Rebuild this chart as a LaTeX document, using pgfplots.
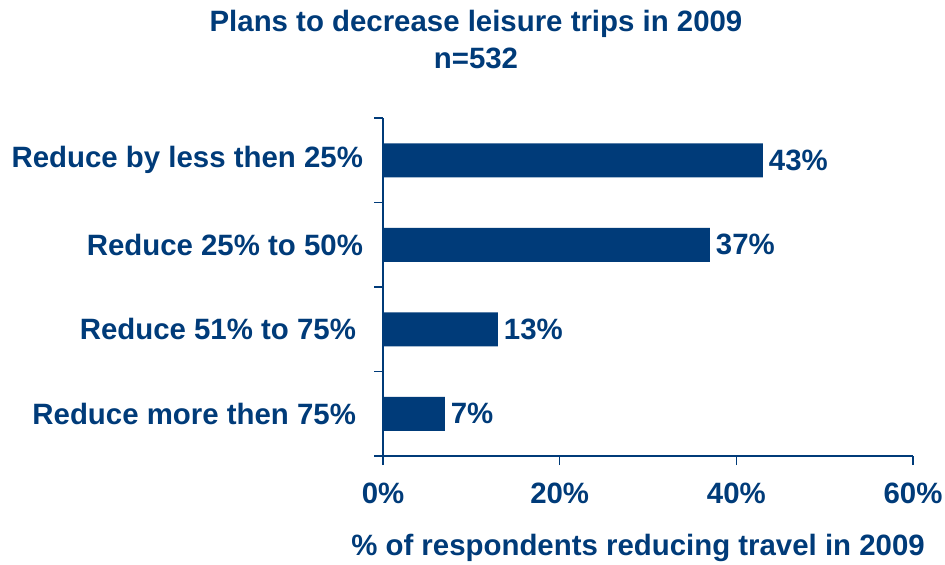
\documentclass[border=0pt]{standalone}
\usepackage{fontspec}
\setmainfont{Liberation Sans}
\usepackage{pgfplots}
\pgfplotsset{compat=1.18}
\definecolor{navy}{HTML}{003B79}
\newcommand{\lbl}{\fontsize{14.7}{17}\selectfont\bfseries}

\begin{document}
\begin{tikzpicture}
\useasboundingbox (0pt,0pt) rectangle (472.5pt,282pt);
\begin{axis}[
  at={(191.5pt,54pt)}, anchor=south west,
  width=265pt, height=169pt, scale only axis,
  xbar, bar width=17pt,
  xmin=0, xmax=60, ymin=-0.5, ymax=3.5,
  axis lines*=left,
  axis line style={navy, line width=0.8pt},
  /pgf/number format/assume math mode=true,
  xtick={0,20,40,60},
  xticklabel={\pgfmathprintnumber{\tick}\%},
  minor xtick={0,20,40,60},
  ytick={0,1,2,3},
  yticklabels={Reduce more then 75\%\rule{3.5pt}{0pt}, Reduce 51\% to 75\%\rule{3.5pt}{0pt}, Reduce 25\% to 50\%, Reduce by less then 25\%},
  minor ytick={-0.5,0.5,1.5,2.5,3.5},
  major tick length=0pt, minor tick length=4.5pt,
  tick align=outside,
  tick style={navy, line width=0.8pt},
  tick label style={font=\lbl, text=navy},
  xticklabel style={yshift=-10pt},
  yticklabel style={xshift=-6.5pt},
  point meta=x,
  nodes near coords={\pgfmathprintnumber{\pgfplotspointmeta}\%},
  nodes near coords style={font=\lbl, text=navy, anchor=west, xshift=-0.5pt},
]
\addplot[fill=navy, draw=none] coordinates {(7,0) (13,1) (37,2) (43,3)};
\end{axis}
\node[font=\lbl, text=navy] at (238pt,270pt) {Plans to decrease leisure trips in 2009};
\node[font=\lbl, text=navy] at (238pt,253pt) {n=532};
\node[font=\lbl, text=navy] at (319pt,8pt) {\% of respondents reducing travel in 2009};
\end{tikzpicture}
\end{document}
